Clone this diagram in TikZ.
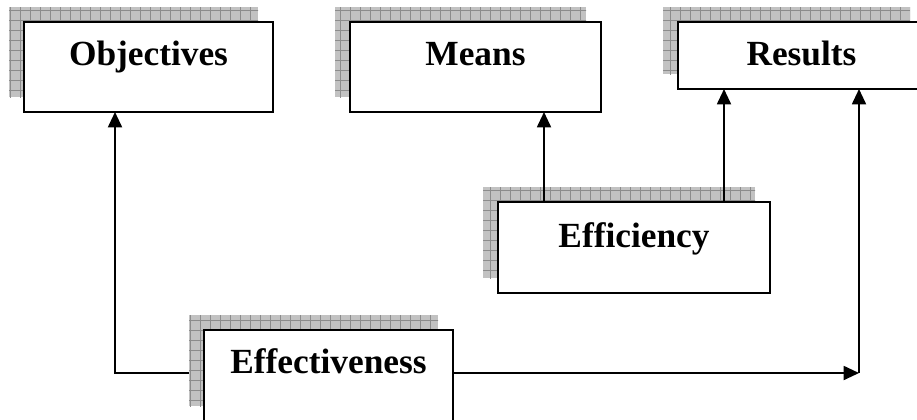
\documentclass[tikz,border=0pt]{standalone}
\usepackage{fontspec}
\setmainfont{Liberation Serif}
\usetikzlibrary{arrows.meta}
\pgfdeclarelayer{bg}
\pgfsetlayers{bg,main}
\tikzset{
  boxnode/.style={draw, fill=white, line width=1.4pt, inner xsep=0pt, inner ysep=0pt,
    outer sep=0pt, anchor=north west, font=\fontsize{26.5}{30}\selectfont\bfseries},
  boxdim/.style n args={3}{minimum width=#1*0.75pt, text height=#2*0.75pt, text depth=#3*0.75pt},
  conn/.style={line width=1.4pt, -{Triangle[length=11.5pt,width=10.5pt]}},
  shadowfill/.style={fill=gray!48},
  gridline/.style={draw=gray!90, line width=0.6pt},
}
\newcommand\dropshadow[4]{%
  \begin{scope}
    \clip (#1-15,#2-15) rectangle (#3-15,#4-15);
    \fill[shadowfill] (#1-15,#2-15) rectangle (#3-15,#4-15);
    \draw[gridline, step=7.5pt] (#1-25,#2-25) grid (#3-5,#4-5);
  \end{scope}}
\begin{document}
\begin{tikzpicture}[x=0.75pt, y=-0.75pt]
  \clip (0,0) rectangle (917,419);
  % boxes
  \node[boxnode, boxdim={249}{43}{47}] (obj) at (24,22) {Objectives};
  \node[boxnode, boxdim={251}{43}{47}] (means) at (350,22) {Means};
  \node[boxnode, boxdim={247}{43}{24}] (res) at (678,22) {Results};
  \node[boxnode, boxdim={272}{45}{46}] (eff) at (498,202) {Efficiency};
  \node[boxnode, boxdim={249}{43}{48}] (effc) at (204,330) {Effectiveness};
  \coordinate (corner) at (859,373);
  % background: left connector under shadow, then shadows
  \begin{pgfonlayer}{bg}
    \draw[conn] (effc.west |- corner) -| (115,0 |- obj.south);
    \dropshadow{24}{22}{273}{112}
    \dropshadow{350}{22}{601}{112}
    \dropshadow{678}{22}{925}{89}
    \dropshadow{498}{202}{770}{293}
    \dropshadow{204}{330}{453}{421}
  \end{pgfonlayer}
  % connectors
  \draw[conn] (544,0 |- eff.north) -- (544,0 |- means.south);
  \draw[conn] (724,0 |- eff.north) -- (724,0 |- res.south);
  \draw[conn] (effc.east |- corner) -- (corner);
  \draw[conn] (corner) -- (corner |- res.south);
\end{tikzpicture}
\end{document}
